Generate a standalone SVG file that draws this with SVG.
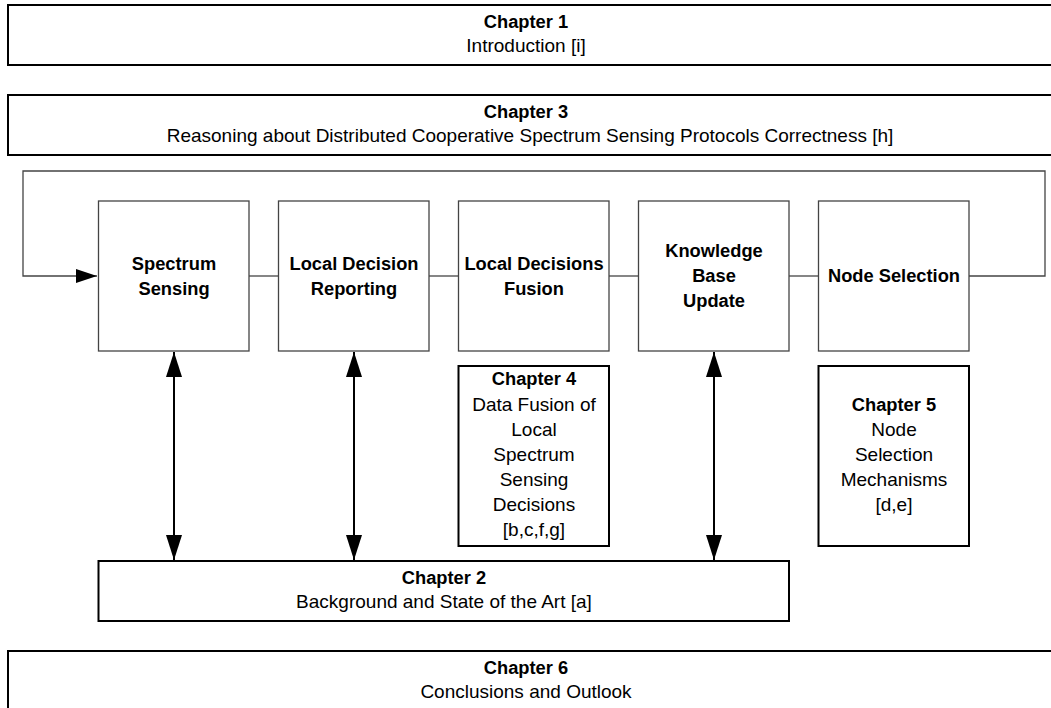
<svg xmlns="http://www.w3.org/2000/svg" width="1051" height="708" viewBox="0 0 1051 708">
<defs>
<style>
.t{font-family:"Liberation Sans",Arial,sans-serif;font-size:19px;fill:#000;text-anchor:middle}
.b{font-weight:bold;font-size:18.3px}
.chap{fill:#fff;stroke:#000;stroke-width:2}
.step{fill:#fff;stroke:#444;stroke-width:1.3}
.ln{fill:none;stroke:#444;stroke-width:1.3}
.arr{fill:none;stroke:#000;stroke-width:2}
</style>
<marker id="ah" markerUnits="userSpaceOnUse" markerWidth="26" markerHeight="18" refX="25" refY="8" orient="auto-start-reverse" viewBox="0 0 26 16">
<path d="M0,0 L25,8 L0,16 Z" fill="#000"/>
</marker>
<marker id="ah2" markerUnits="userSpaceOnUse" markerWidth="22" markerHeight="16" refX="21" refY="7" orient="auto" viewBox="0 0 22 14">
<path d="M0,0 L21,7 L0,14 Z" fill="#000"/>
</marker>
</defs>
<rect width="1051" height="708" fill="#fff"/>

<g id="connectors">
<path class="ln" d="M969,276 H1045 V171 H23 V276 H97" marker-end="url(#ah2)"/>
<line class="ln" x1="249" y1="276" x2="278" y2="276"/>
<line class="ln" x1="429" y1="276" x2="458" y2="276"/>
<line class="ln" x1="609" y1="276" x2="638" y2="276"/>
<line class="ln" x1="789" y1="276" x2="818" y2="276"/>
<line class="arr" x1="174" y1="352" x2="174" y2="560" marker-start="url(#ah)" marker-end="url(#ah)"/>
<line class="arr" x1="354" y1="352" x2="354" y2="560" marker-start="url(#ah)" marker-end="url(#ah)"/>
<line class="arr" x1="714" y1="352" x2="714" y2="560" marker-start="url(#ah)" marker-end="url(#ah)"/>
</g>

<g id="chapter1">
<rect class="chap" x="8" y="5" width="1100" height="60"/>
<text class="t b" x="526" y="28">Chapter 1</text>
<text class="t" x="526" y="52">Introduction [i]</text>
</g>

<g id="chapter3">
<rect class="chap" x="8" y="95" width="1100" height="60"/>
<text class="t b" x="526" y="118">Chapter 3</text>
<text class="t" x="530" y="142">Reasoning about Distributed Cooperative Spectrum Sensing Protocols Correctness [h]</text>
</g>

<g id="spectrum-sensing">
<rect class="step" x="98.5" y="201" width="150.5" height="150"/>
<text class="t b" x="174" y="270">Spectrum</text>
<text class="t b" x="174" y="295">Sensing</text>
</g>

<g id="local-decision-reporting">
<rect class="step" x="278.5" y="201" width="150.5" height="150"/>
<text class="t b" x="354" y="270">Local Decision</text>
<text class="t b" x="354" y="295">Reporting</text>
</g>

<g id="local-decisions-fusion">
<rect class="step" x="458.5" y="201" width="150.5" height="150"/>
<text class="t b" x="534" y="270">Local Decisions</text>
<text class="t b" x="534" y="295">Fusion</text>
</g>

<g id="knowledge-base-update">
<rect class="step" x="638.5" y="201" width="150.5" height="150"/>
<text class="t b" x="714" y="257">Knowledge</text>
<text class="t b" x="714" y="282">Base</text>
<text class="t b" x="714" y="307">Update</text>
</g>

<g id="node-selection">
<rect class="step" x="818.5" y="201" width="150.5" height="150"/>
<text class="t b" x="894" y="282">Node Selection</text>
</g>

<g id="chapter4">
<rect class="chap" x="458.5" y="366" width="150.5" height="180"/>
<text class="t b" x="534" y="385">Chapter 4</text>
<text class="t" x="534" y="411">Data Fusion of</text>
<text class="t" x="534" y="436">Local</text>
<text class="t" x="534" y="461">Spectrum</text>
<text class="t" x="534" y="486">Sensing</text>
<text class="t" x="534" y="511">Decisions</text>
<text class="t" x="534" y="536">[b,c,f,g]</text>
</g>

<g id="chapter5">
<rect class="chap" x="818.5" y="366" width="150.5" height="180"/>
<text class="t b" x="894" y="411">Chapter 5</text>
<text class="t" x="894" y="436">Node</text>
<text class="t" x="894" y="461">Selection</text>
<text class="t" x="894" y="486">Mechanisms</text>
<text class="t" x="894" y="511">[d,e]</text>
</g>

<g id="chapter2">
<rect class="chap" x="98.5" y="561" width="690.5" height="60"/>
<text class="t b" x="444" y="584">Chapter 2</text>
<text class="t" x="444" y="608">Background and State of the Art [a]</text>
</g>

<g id="chapter6">
<rect class="chap" x="8" y="651" width="1100" height="100"/>
<text class="t b" x="526" y="674">Chapter 6</text>
<text class="t" x="526" y="698">Conclusions and Outlook</text>
</g>
</svg>
